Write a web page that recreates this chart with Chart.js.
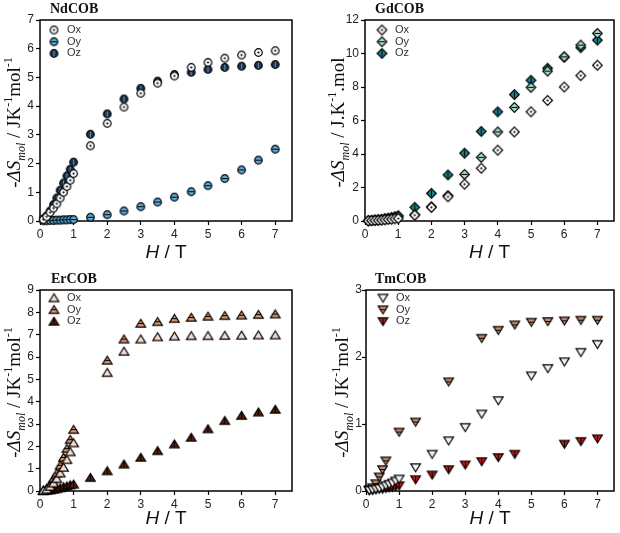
<!DOCTYPE html>
<html>
<head>
<meta charset="utf-8">
<script src="https://cdn.jsdelivr.net/npm/chart.js@4"></script>
<style>
  body { margin: 0; background: #fff; }
  #wrap { position: relative; width: 620px; height: 533px; }
  canvas { position: absolute; }
</style>
</head>
<body>
<div id="wrap">
  <canvas id="nd" width="310" height="266" style="left:0;top:0"></canvas>
  <canvas id="gd" width="310" height="266" style="left:310px;top:0"></canvas>
  <canvas id="er" width="310" height="267" style="left:0;top:266px"></canvas>
  <canvas id="tm" width="310" height="267" style="left:310px;top:266px"></canvas>
</div>
<script>
// field values (T)
var fields = [0.1, 0.2, 0.3, 0.4, 0.5, 0.6, 0.7, 0.8, 0.9, 1.0, 1.5, 2, 2.5, 3, 3.5, 4, 4.5, 5, 5.5, 6, 6.5, 7];
var xTicks = [0, 1, 2, 3, 4, 5, 6, 7];
var seriesNames = ['Ox', 'Oy', 'Oz'];

// NdCOB
var ndOx = [0.05, 0.15, 0.3, 0.45, 0.6, 0.8, 1.0, 1.2, 1.42, 1.65, 2.62, 3.4, 3.97, 4.45, 4.8, 5.05, 5.35, 5.52, 5.67, 5.78, 5.87, 5.93];
var ndOy = [0.01, 0.01, 0.02, 0.02, 0.03, 0.03, 0.04, 0.04, 0.05, 0.05, 0.13, 0.22, 0.35, 0.5, 0.66, 0.83, 1.02, 1.23, 1.48, 1.78, 2.12, 2.5];
var ndOz = [0.07, 0.18, 0.35, 0.57, 0.8, 1.07, 1.32, 1.57, 1.8, 2.05, 3.02, 3.73, 4.25, 4.62, 4.87, 5.1, 5.18, 5.28, 5.35, 5.39, 5.42, 5.45];

// GdCOB
var gdOx = [0.01, 0.02, 0.03, 0.04, 0.05, 0.07, 0.09, 0.11, 0.13, 0.15, 0.35, 0.82, 1.45, 2.2, 3.15, 4.23, 5.32, 6.52, 7.2, 8.0, 8.68, 9.3];
var gdOy = [0.02, 0.03, 0.05, 0.07, 0.09, 0.12, 0.15, 0.18, 0.22, 0.25, 0.38, 0.85, 1.52, 2.78, 3.8, 5.32, 6.78, 7.98, 8.95, 9.8, 10.5, 11.2];
var gdOz = [0.02, 0.04, 0.06, 0.08, 0.1, 0.14, 0.17, 0.21, 0.26, 0.32, 0.82, 1.65, 2.75, 4.05, 5.35, 6.52, 7.55, 8.4, 9.12, 9.78, 10.35, 10.8];

// ErCOB
var erOx = [0.02, 0.07, 0.2, 0.35, 0.55, 0.8, 1.05, 1.4, 1.75, 2.15, null, 5.3, 6.25, 6.8, 6.9, 6.93, 6.95, 6.95, 6.96, 6.97, 6.98, 6.98];
var erOy = [0.03, 0.12, 0.3, 0.55, 0.8, 1.15, 1.5, 1.9, 2.3, 2.75, null, 5.85, 6.8, 7.5, 7.58, 7.72, 7.77, 7.82, 7.85, 7.87, 7.9, 7.92];
var erOz = [0.01, 0.02, 0.04, 0.07, 0.1, 0.14, 0.18, 0.22, 0.27, 0.3, 0.6, 0.9, 1.2, 1.5, 1.8, 2.1, 2.4, 2.78, 3.15, 3.38, 3.53, 3.65];

// TmCOB
var tmOx = [0.01, 0.02, 0.03, 0.04, 0.06, 0.08, 0.1, 0.12, 0.15, 0.18, 0.35, 0.55, 0.75, 0.95, 1.15, 1.35, null, 1.72, 1.83, 1.93, 2.07, 2.19];
var tmOy = [0.02, 0.05, 0.11, 0.21, 0.32, 0.45, null, null, null, 0.88, 1.03, null, 1.63, null, 2.28, 2.4, 2.48, 2.52, 2.53, 2.54, 2.55, 2.55];
var tmOz = [0.01, 0.01, 0.02, 0.03, 0.03, 0.04, 0.05, 0.06, 0.07, 0.08, 0.17, 0.24, 0.32, 0.39, 0.44, 0.5, 0.55, null, null, 0.7, 0.74, 0.78];

// little marker sprites, Origin style
function marker(shape, fill, inner, innerColor) {
    var c = document.createElement('canvas');
    c.width = 13; c.height = 13;
    var g = c.getContext('2d');
    g.translate(6.5, 6.5);
    g.beginPath();
    if (shape == 'circle') g.arc(0, 0, 3.8, 0, 2 * Math.PI);
    if (shape == 'diamond') { g.moveTo(0, -4.8); g.lineTo(4.8, 0); g.lineTo(0, 4.8); g.lineTo(-4.8, 0); g.closePath(); }
    if (shape == 'tri') { g.moveTo(0, -4.2); g.lineTo(4.8, 3.6); g.lineTo(-4.8, 3.6); g.closePath(); }
    if (shape == 'itri') { g.moveTo(0, 4.2); g.lineTo(4.8, -3.6); g.lineTo(-4.8, -3.6); g.closePath(); }
    g.fillStyle = fill;
    g.fill();
    g.lineWidth = 1.2;
    g.strokeStyle = '#000';
    g.stroke();
    g.strokeStyle = innerColor || '#000';
    g.fillStyle = innerColor || '#000';
    g.lineWidth = 1;
    if (inner == 'dot') { g.beginPath(); g.arc(0, 0, 1.1, 0, 2 * Math.PI); g.fill(); }
    if (inner == 'h') { g.beginPath(); g.moveTo(-3, 0); g.lineTo(3, 0); g.stroke(); }
    if (inner == 'v') { g.beginPath(); g.moveTo(0, -3); g.lineTo(0, 3); g.stroke(); }
    return c;
}

function pts(ys) {
    return fields.map((x, i) => ({ x: x, y: ys[i] })).filter(p => p.y !== null);
}

// frame + legend + titles drawn in-canvas
var decor = {
    id: 'decor',
    beforeDatasetsDraw(chart, args, o) {
        var a = chart.chartArea, ctx = chart.ctx;
        ctx.save();
        ctx.strokeStyle = '#000';
        ctx.lineWidth = 1.5;
        ctx.strokeRect(a.left, a.top, a.right - a.left, a.bottom - a.top);
        ctx.restore();
    },
    afterDraw(chart, args, o) {
        var a = chart.chartArea, ctx = chart.ctx;
        ctx.save();
        // legend
        ctx.font = '11px "Liberation Sans", Arial, sans-serif';
        ctx.fillStyle = '#333';
        ctx.textBaseline = 'middle';
        chart.data.datasets.forEach((d, i) => {
            var y = a.top + o.legTop + i * 11.7;
            var img = d.pointStyle;
            ctx.drawImage(img, a.left + o.legX - img.width / 2, y - img.height / 2);
            ctx.fillText(d.label, a.left + o.legX + 13, y);
        });
        // panel title
        ctx.fillStyle = '#111';
        ctx.textBaseline = 'alphabetic';
        ctx.font = 'bold 14px "Liberation Serif", "Times New Roman", serif';
        ctx.fillText(o.title, o.titleX, o.titleY);
        // x title
        var sans = '"Liberation Sans", Arial, sans-serif';
        var xr = [{ t: 'H', f: 'italic 19px ' + sans }, { t: ' / T', f: '19px ' + sans }];
        drawRuns(ctx, xr, (a.left + a.right) / 2, o.xTitleY, 0);
        // y title
        drawRuns(ctx, o.yRuns, o.yTitleX, (a.top + a.bottom) / 2 + 2, -Math.PI / 2);
        ctx.restore();
    }
};

function drawRuns(ctx, runs, cx, cy, rot) {
    ctx.save();
    ctx.translate(cx, cy);
    ctx.rotate(rot);
    ctx.textBaseline = 'alphabetic';
    ctx.fillStyle = '#111';
    var w = 0;
    runs.forEach(r => { ctx.font = r.f; w += ctx.measureText(r.t).width; });
    var x = -w / 2;
    runs.forEach(r => {
        ctx.font = r.f;
        ctx.fillText(r.t, x, r.dy || 0);
        x += ctx.measureText(r.t).width;
    });
    ctx.restore();
}

var serif = '"Liberation Serif", "Times New Roman", serif';
var big = '19px ' + serif, bigI = 'italic 19px ' + serif, small = '12px ' + serif, smallI = 'italic 12px ' + serif;
var perMol = [
    { t: '-', f: big }, { t: '\u0394S', f: bigI }, { t: 'mol', f: smallI, dy: 5 },
    { t: ' / JK', f: big }, { t: '-1', f: small, dy: -8 }, { t: 'mol', f: big }, { t: '-1', f: small, dy: -8 }
];
var perMolGd = [
    { t: '-', f: big }, { t: '\u0394S', f: bigI }, { t: 'mol', f: smallI, dy: 5 },
    { t: ' / J.K', f: big }, { t: '-1', f: small, dy: -8 }, { t: '.mol', f: big }
];

function makeChart(id, p) {
    var ctx = document.getElementById(id).getContext('2d');
    return new Chart(ctx, {
        type: 'scatter',
        data: {
            datasets: p.series.map((s, i) => ({
                label: seriesNames[i],
                data: pts(s),
                pointStyle: p.markers[i],
                pointRadius: 5,
                showLine: false,
                clip: false
            }))
        },
        options: {
            responsive: false,
            animation: false,
            layout: { padding: { top: p.padTop, right: p.padRight, left: 0, bottom: 0 } },
            plugins: {
                legend: { display: false },
                tooltip: { enabled: false },
                decor: {
                    title: p.title, titleX: p.titleX, titleY: p.titleY,
                    legX: p.legX, legTop: p.legTop,
                    xTitleY: p.xTitleY, yTitleX: p.yTitleX, yRuns: p.yRuns
                }
            },
            scales: {
                x: {
                    type: 'linear',
                    min: 0,
                    max: 7.5,
                    afterFit: s => { s.height = p.xHeight; },
                    afterBuildTicks: s => { s.ticks = xTicks.map(v => ({ value: v })); },
                    ticks: { padding: 2, color: '#222', maxRotation: 0, autoSkip: false,
                        font: { family: '"Liberation Sans", Arial, sans-serif', size: 12 } },
                    grid: { drawOnChartArea: false, drawTicks: true, tickLength: 4, tickColor: '#000', tickWidth: 1.2 },
                    border: { display: false }
                },
                y: {
                    min: 0,
                    max: p.yMax,
                    afterFit: s => { s.width = p.yWidth; },
                    ticks: { stepSize: p.yStep, padding: p.yPad, color: '#222',
                        font: { family: '"Liberation Sans", Arial, sans-serif', size: 12 } },
                    grid: { drawOnChartArea: false, drawTicks: true, tickLength: 4, tickColor: '#000', tickWidth: 1.2 },
                    border: { display: false }
                }
            }
        },
        plugins: [decor]
    });
}

makeChart('nd', {
    series: [ndOx, ndOy, ndOz],
    markers: [marker('circle', '#ffffff', 'dot'), marker('circle', '#5aaede', 'h'), marker('circle', '#1a3556', 'v', '#6c8db0')],
    yMax: 7, yStep: 1, yWidth: 40, yPad: 2, padTop: 20, padRight: 18, xHeight: 45,
    title: 'NdCOB', titleX: 50, titleY: 13, legX: 14, legTop: 10,
    xTitleY: 258, yTitleX: 20, yRuns: perMol
});

makeChart('gd', {
    series: [gdOx, gdOy, gdOz],
    markers: [marker('diamond', '#ffffff', 'dot'), marker('diamond', '#a6dcc8', 'h'), marker('diamond', '#16808f', 'v')],
    yMax: 12, yStep: 2, yWidth: 55, yPad: 2, padTop: 20, padRight: 3, xHeight: 45,
    title: 'GdCOB', titleX: 65, titleY: 13, legX: 17, legTop: 10,
    xTitleY: 258, yTitleX: 34, yRuns: perMolGd
});

makeChart('er', {
    series: [erOx, erOy, erOz],
    markers: [marker('tri', '#f6dccc', null), marker('tri', '#d7946c', 'h'), marker('tri', '#5e1f08', 'v')],
    yMax: 9, yStep: 1, yWidth: 40, yPad: 2, padTop: 24, padRight: 18, xHeight: 42,
    title: 'ErCOB', titleX: 51, titleY: 17, legX: 14, legTop: 8,
    xTitleY: 258, yTitleX: 20, yRuns: perMol
});

makeChart('tm', {
    series: [tmOx, tmOy, tmOz],
    markers: [marker('itri', '#f2f2f2', null), marker('itri', '#c98a72', 'h'), marker('itri', '#d41414', 'v')],
    yMax: 3, yStep: 1, yWidth: 56, yPad: 0, padTop: 24, padRight: 3, xHeight: 42,
    title: 'TmCOB', titleX: 65, titleY: 17, legX: 17, legTop: 8,
    xTitleY: 258, yTitleX: 38, yRuns: perMol
});
</script>
</body>
</html>
